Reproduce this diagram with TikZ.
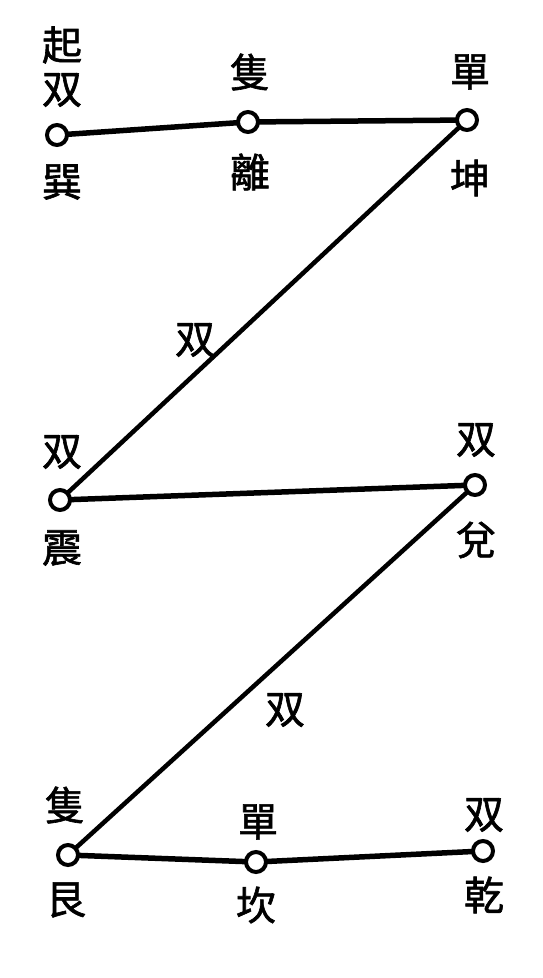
\documentclass[tikz,border=0pt]{standalone}
\usepackage{fontspec}
\newfontfamily\cjk{Noto Sans CJK TC}[FakeBold=1.5]
\begin{document}
\begin{tikzpicture}[x=1pt,y=-1pt,
  pt/.style={circle,draw,line width=4pt,minimum size=20pt,inner sep=0pt,fill=white},
  lbl/.style={font=\cjk\fontsize{40}{40}\selectfont,inner sep=0pt},
  ln/.style={line width=5.5pt},
  dg/.style={line width=4.5pt}]
\useasboundingbox (0,0) rectangle (543,978);
\fill[white] (0,0) rectangle (543,978);
% connectors first, circles drawn on top
\coordinate (cxun) at (57,135);
\coordinate (cli) at (248,122);
\coordinate (ckun) at (467,120);
\coordinate (czhen) at (60,500);
\coordinate (cdui) at (475,485);
\coordinate (cgen) at (68,855);
\coordinate (ckan) at (256,862);
\coordinate (cqian) at (483,851);
\draw[ln] (cxun) -- (cli) -- (ckun);
\draw[dg] (ckun) -- (czhen);
\draw[ln] (czhen) -- (cdui);
\draw[dg] (cdui) -- (cgen);
\draw[ln] (cgen) -- (ckan) -- (cqian);
\node[pt] (xun) at (cxun) {};
\node[pt] (li) at (cli) {};
\node[pt] (kun) at (ckun) {};
\node[pt] (zhen) at (czhen) {};
\node[pt] (dui) at (cdui) {};
\node[pt] (gen) at (cgen) {};
\node[pt] (kan) at (ckan) {};
\node[pt] (qian) at (cqian) {};
% labels
\node[lbl] (t1) at (62,45) {起};
\node[lbl] (t2) at (62,90) {双};
\node[lbl] (t3) at (62,182) {巽};
\node[lbl] (t4) at (250,72) {隻};
\node[lbl] (t5) at (250,172) {離};
\node[lbl] (t6) at (470,72) {單};
\node[lbl] (t7) at (470,178) {坤};
\node[lbl] (t8) at (195,340) {双};
\node[lbl] (t9) at (62,452) {双};
\node[lbl] (t10) at (62,548) {震};
\node[lbl] (t11) at (476,440) {双};
\node[lbl] (t12) at (476,540) {兌};
\node[lbl] (t13) at (285,710) {双};
\node[lbl] (t14) at (65,805) {隻};
\node[lbl] (t15) at (66,900) {艮};
\node[lbl] (t16) at (258,822) {單};
\node[lbl] (t17) at (256,905) {坎};
\node[lbl] (t18) at (484,815) {双};
\node[lbl] (t19) at (484,895) {乾};
\end{tikzpicture}
\end{document}
